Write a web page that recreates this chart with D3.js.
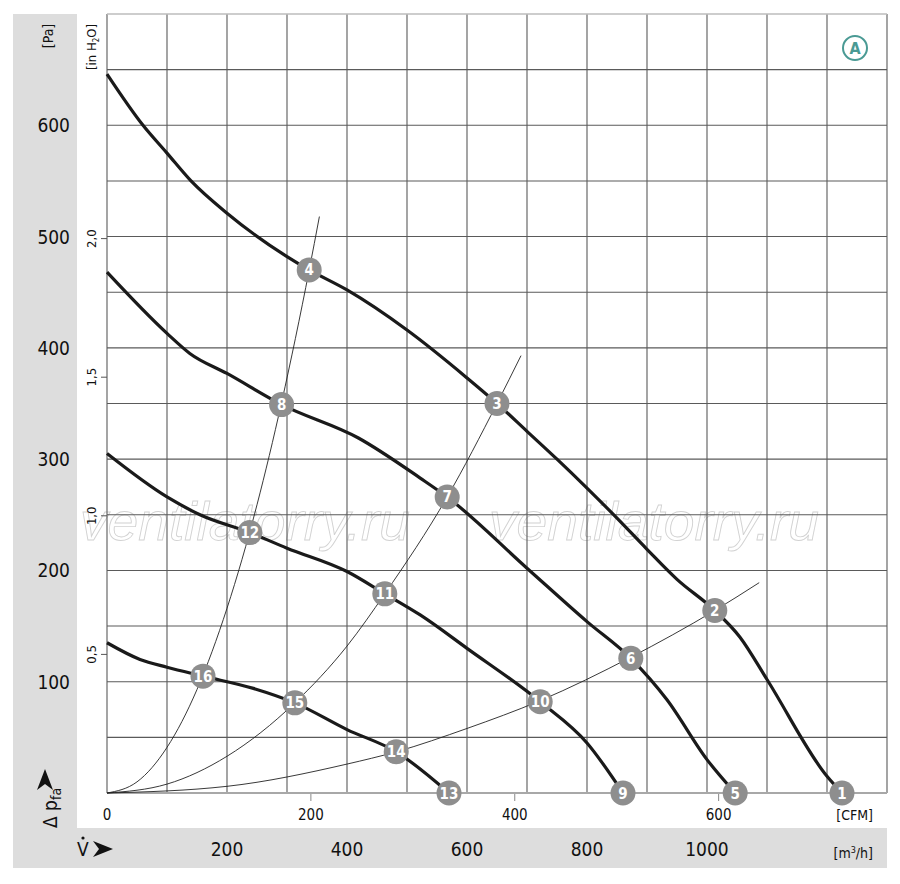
<!DOCTYPE html>
<html>
<head>
<meta charset="utf-8">
<script src="https://cdn.jsdelivr.net/npm/d3@7"></script>
<style>
  body { margin: 0; background: #fff; }
  svg text { font-family: "Liberation Sans Narrow", "DejaVu Sans Condensed", "Liberation Sans", Arial, sans-serif; }
</style>
</head>
<body>
<div id="chart"></div>
<script>
// Fan curves (flow in m3/h, static pressure in Pa)
const curveAQ = [0, 60, 100, 140, 200, 300, 337, 400, 500, 600, 650, 700, 750, 800, 850, 900, 950, 1013, 1055, 1100, 1200, 1225];
const curveAP = [646, 600, 575, 550, 521, 482, 470, 452, 416, 373, 350, 325, 300, 274, 247, 219, 192, 164, 140, 102, 15, 0];
const curveBQ = [0, 100, 138, 200, 291, 419, 522, 567, 700, 800, 873, 933, 1000, 1047];
const curveBP = [468, 413, 395, 377, 349, 319, 283, 266, 202, 154, 121, 84, 30, 0];
const curveCQ = [0, 100, 155, 238, 300, 400, 463, 522, 600, 722, 800, 860];
const curveCP = [305, 266, 250, 234, 220, 199, 179, 160, 130, 82, 45, 0];
const curveDQ = [0, 55, 100, 160, 244, 313, 400, 482, 570];
const curveDP = [135, 120, 113, 105, 94, 81, 57, 37, 0];

// System resistance curves (thin)
const sysSteepQ = [0, 50, 100, 150, 200, 250, 291, 337, 354];
const sysSteepP = [0, 10, 41, 93, 166, 259, 351, 470, 518];
const sysMidQ = [0, 100, 200, 313, 400, 463, 567, 650, 690];
const sysMidP = [0, 8, 33, 81, 132, 179, 266, 350, 393];
const sysFlatQ = [0, 200, 400, 482, 600, 722, 873, 1013, 1087];
const sysFlatP = [0, 6, 26, 37, 58, 83, 122, 164, 189];

// Operating point markers
const markerIds = [1, 2, 3, 4, 5, 6, 7, 8, 9, 10, 11, 12, 13, 14, 15, 16];
const markerQ = [1225, 1013, 650, 337, 1047, 873, 567, 291, 860, 722, 463, 238, 570, 482, 313, 160];
const markerP = [0, 164, 350, 470, 0, 121, 266, 349, 0, 82, 179, 234, 0, 37, 81, 105];

// Tick labels
const paTicks = [100, 200, 300, 400, 500, 600];
const m3hTicks = [200, 400, 600, 800, 1000];
const cfmTicks = [0, 200, 400, 600];
const inH2OTicks = [0.5, 1.0, 1.5, 2.0];
const inH2OLabels = ['0,5', '1,0', '1,5', '2,0'];

const W = 900, H = 884;
const svg = d3.select('#chart').append('svg')
    .attr('width', W).attr('height', H);

// scales
const x = d3.scaleLinear().domain([0, 1300]).range([107, 887]);
const y = d3.scaleLinear().domain([0, 700]).range([793, 14]);
const xCfm = d3.scaleLinear().domain([0, 1300 / 1.699]).range([107, 887]);
const yIn = d3.scaleLinear().domain([0, 700 / 249.09]).range([793, 14]);

// grey panels
svg.append('rect').attr('x', 13).attr('y', 14).attr('width', 64).attr('height', 854).attr('fill', '#dddddd');
svg.append('rect').attr('x', 13).attr('y', 828).attr('width', 874).attr('height', 40).attr('fill', '#dddddd');

// watermark
['ventilatorry.ru', 'ventilatorry.ru'].forEach((t, i) => {
    svg.append('text')
        .attr('x', i === 0 ? 80 : 489)
        .attr('y', 540)
        .attr('textLength', 330)
        .attr('lengthAdjust', 'spacingAndGlyphs')
        .style('font-family', '"Liberation Sans", Arial, sans-serif')
        .style('font-style', 'italic')
        .style('font-size', '54px')
        .attr('fill', 'none')
        .attr('stroke', '#d2d2d2')
        .attr('stroke-width', 0.9)
        .text(t);
});

// grid
const grid = svg.append('g');
grid.selectAll('.vg').data(x.ticks(13)).enter().append('line')
    .attr('x1', d => x(d)).attr('x2', d => x(d))
    .attr('y1', y(700)).attr('y2', y(0))
    .attr('stroke', '#5a5a5a').attr('stroke-width', 1.1);
grid.selectAll('.hg').data(y.ticks(14).filter(d => d > 0 && d < 700)).enter().append('line')
    .attr('x1', x(0)).attr('x2', x(1300))
    .attr('y1', d => y(d)).attr('y2', d => y(d))
    .attr('stroke', '#5a5a5a').attr('stroke-width', 1.1);
// top and bottom border
grid.append('line').attr('x1', x(0)).attr('x2', x(1300)).attr('y1', y(700)).attr('y2', y(700))
    .attr('stroke', '#bdbdbd').attr('stroke-width', 1.5);
grid.append('line').attr('x1', x(0)).attr('x2', x(1300)).attr('y1', y(0)).attr('y2', y(0))
    .attr('stroke', '#a8a8a8').attr('stroke-width', 2.2);

// CFM ticks below axis
svg.selectAll('.cfmTick').data(cfmTicks.filter(d => d > 0)).enter().append('line')
    .attr('x1', d => xCfm(d)).attr('x2', d => xCfm(d))
    .attr('y1', 794).attr('y2', 801)
    .attr('stroke', '#888').attr('stroke-width', 1);
svg.selectAll('.cfmLabel').data(cfmTicks).enter().append('text')
    .attr('x', d => xCfm(d)).attr('y', 820)
    .attr('text-anchor', 'middle')
    .style('font-size', '15px').attr('fill', '#111')
    .text(d => d);
svg.append('text').attr('x', 873).attr('y', 820).attr('text-anchor', 'end')
    .style('font-size', '14px').attr('fill', '#111').text('[CFM]');

// m3/h labels
svg.selectAll('.m3hLabel').data(m3hTicks).enter().append('text')
    .attr('x', d => x(d)).attr('y', 856)
    .attr('text-anchor', 'middle')
    .style('font-size', '19px').attr('fill', '#111')
    .text(d => d);
const m3 = svg.append('text').attr('x', 873).attr('y', 858).attr('text-anchor', 'end')
    .style('font-size', '14px').attr('fill', '#111');
m3.append('tspan').text('[m');
m3.append('tspan').attr('dy', -5).style('font-size', '9px').text('3');
m3.append('tspan').attr('dy', 5).text('/h]');

// Pa labels
svg.selectAll('.paLabel').data(paTicks).enter().append('text')
    .attr('x', 70).attr('y', d => y(d) + 7)
    .attr('text-anchor', 'end')
    .style('font-size', '19px').attr('fill', '#111')
    .text(d => d);
svg.append('text').attr('transform', 'translate(53,36) rotate(-90)')
    .attr('text-anchor', 'middle')
    .style('font-size', '14px').attr('fill', '#111').text('[Pa]');

// in H2O ticks and labels
svg.selectAll('.inTick').data(inH2OTicks).enter().append('line')
    .attr('x1', 101).attr('x2', 107)
    .attr('y1', d => yIn(d)).attr('y2', d => yIn(d))
    .attr('stroke', '#555').attr('stroke-width', 1);
svg.selectAll('.inLabel').data(inH2OTicks).enter().append('text')
    .attr('transform', d => `translate(96,${yIn(d)}) rotate(-90)`)
    .attr('text-anchor', 'middle')
    .style('font-size', '13px').attr('fill', '#111')
    .text((d, i) => inH2OLabels[i]);
const inLab = svg.append('text').attr('transform', 'translate(96,47) rotate(-90)')
    .attr('text-anchor', 'middle')
    .style('font-size', '13px').attr('fill', '#111');
inLab.append('tspan').text('[in H');
inLab.append('tspan').attr('dy', 3).style('font-size', '8px').text('2');
inLab.append('tspan').attr('dy', -3).text('O]');

// axis names
const dp = svg.append('text').attr('transform', 'translate(57,828) rotate(-90)')
    .attr('text-anchor', 'start')
    .style('font-size', '19px').attr('fill', '#111');
dp.append('tspan').text('\u0394 p');
dp.append('tspan').attr('dy', 4).style('font-size', '14px').text('fa');
// upward arrowhead for pressure axis
svg.append('path')
    .attr('d', 'M45,769 L53,790 L45,784 L37,790 Z')
    .attr('fill', '#111');
// flow axis: V with dot and arrowhead
svg.append('text').attr('x', 77).attr('y', 856)
    .style('font-size', '19px').attr('fill', '#111').text('V');
svg.append('circle').attr('cx', 83).attr('cy', 838).attr('r', 1.6).attr('fill', '#111');
svg.append('path')
    .attr('d', 'M93,841 L113,849 L93,857 L99,849 Z')
    .attr('fill', '#111');

// badge A
svg.append('circle').attr('cx', 855).attr('cy', 48).attr('r', 12)
    .attr('fill', 'none').attr('stroke', '#4a9a94').attr('stroke-width', 2);
svg.append('text').attr('x', 855).attr('y', 54).attr('text-anchor', 'middle')
    .style('font-size', '16px').style('font-weight', 'bold').attr('fill', '#4a9a94').text('A');

// curves
const zip = (qs, ps) => qs.map((q, i) => [q, ps[i]]);
const line = d3.line().x(d => x(d[0])).y(d => y(d[1])).curve(d3.curveMonotoneX);

[[sysSteepQ, sysSteepP], [sysMidQ, sysMidP], [sysFlatQ, sysFlatP]].forEach(([q, p]) => {
    svg.append('path').attr('d', line(zip(q, p)))
        .attr('fill', 'none').attr('stroke', '#222').attr('stroke-width', 0.9);
});
[[curveAQ, curveAP], [curveBQ, curveBP], [curveCQ, curveCP], [curveDQ, curveDP]].forEach(([q, p]) => {
    svg.append('path').attr('d', line(zip(q, p)))
        .attr('fill', 'none').attr('stroke', '#1a1a1a').attr('stroke-width', 3.2)
        .attr('stroke-linejoin', 'round');
});

// markers
const markers = markerIds.map((id, i) => ({ id: id, q: markerQ[i], p: markerP[i] }));
const mg = svg.selectAll('.marker').data(markers).enter().append('g')
    .attr('transform', d => `translate(${x(d.q)},${y(d.p)})`);
mg.append('circle').attr('r', 12.5).attr('fill', '#8e8e8e');
mg.append('text').attr('y', 5.5).attr('text-anchor', 'middle')
    .style('font-size', '15px').style('font-weight', 'bold').attr('fill', '#fff')
    .text(d => d.id);
</script>
</body>
</html>
